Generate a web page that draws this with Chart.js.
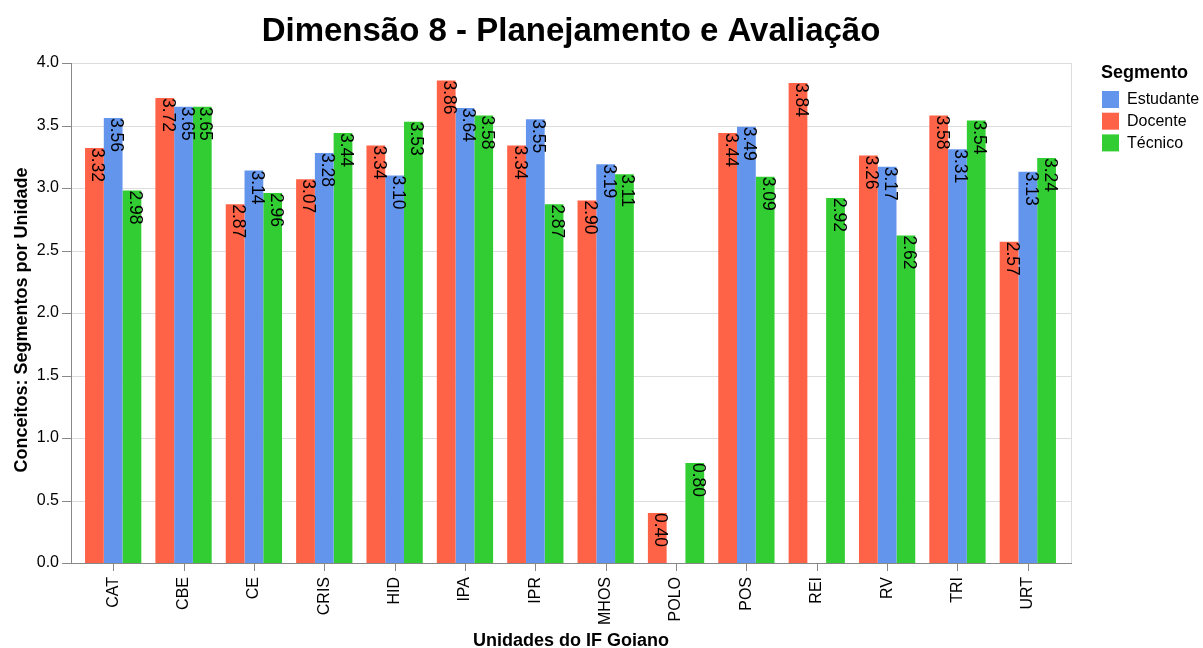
<!DOCTYPE html>
<html>
<head>
<meta charset="utf-8">
<title>Dimensão 8 - Planejamento e Avaliação</title>
<script src="https://cdn.jsdelivr.net/npm/chart.js@4.4.1/dist/chart.umd.min.js"></script>
<style>
  html, body { margin: 0; padding: 0; background: #fff; }
</style>
</head>
<body>
<canvas id="myBarChart" width="1203" height="648"></canvas>
<script>
const units = ["CAT", "CBE", "CE", "CRIS", "HID", "IPA", "IPR", "MHOS", "POLO", "POS", "REI", "RV", "TRI", "URT"];
const docente = [3.32, 3.72, 2.87, 3.07, 3.34, 3.86, 3.34, 2.90, 0.40, 3.44, 3.84, 3.26, 3.58, 2.57];
const estudante = [3.56, 3.65, 3.14, 3.28, 3.10, 3.64, 3.55, 3.19, null, 3.49, null, 3.17, 3.31, 3.13];
const tecnico = [2.98, 3.65, 2.96, 3.44, 3.53, 3.58, 2.87, 3.11, 0.80, 3.09, 2.92, 2.62, 3.54, 3.24];
const yTicks = [0, 0.5, 1, 1.5, 2, 2.5, 3, 3.5, 4];

const FONT = "'Liberation Sans', Arial, Helvetica, sans-serif";

document.addEventListener("DOMContentLoaded", function () {
  const datasets = [
    { label: "Docente", data: docente, backgroundColor: "#ff6347" },
    { label: "Estudante", data: estudante, backgroundColor: "#6495ed" },
    { label: "Técnico", data: tecnico, backgroundColor: "#32cd32" },
  ];
  // legend lists Estudante first
  const legendOrder = [1, 0, 2];

  // frame, grid, ticks and titles (vega-like look)
  const framePlugin = {
    id: "frame",
    beforeDatasetsDraw(chart) {
      const ctx = chart.ctx;
      const a = chart.chartArea;
      const y = chart.scales.y;
      const x = chart.scales.x;
      const left = a.left - 7;
      const right = a.right + 8;

      ctx.save();
      ctx.lineWidth = 1;
      ctx.strokeStyle = "#dddddd";
      yTicks.forEach((v) => {
        const py = Math.round(y.getPixelForValue(v)) + 0.5;
        ctx.beginPath();
        ctx.moveTo(left, py);
        ctx.lineTo(right, py);
        ctx.stroke();
      });
      ctx.beginPath();
      ctx.moveTo(right + 0.5, a.top);
      ctx.lineTo(right + 0.5, a.bottom);
      ctx.stroke();

      ctx.strokeStyle = "#888888";
      ctx.beginPath();
      ctx.moveTo(left + 0.5, a.top);
      ctx.lineTo(left + 0.5, a.bottom + 1);
      ctx.moveTo(left, a.bottom + 0.5);
      ctx.lineTo(right + 1, a.bottom + 0.5);
      yTicks.forEach((v) => {
        const py = Math.round(y.getPixelForValue(v)) + 0.5;
        ctx.moveTo(left - 9, py);
        ctx.lineTo(left, py);
      });
      units.forEach((u, i) => {
        const px = Math.round(x.getPixelForTick(i)) + 0.5;
        ctx.moveTo(px, a.bottom);
        ctx.lineTo(px, a.bottom + 8);
      });
      ctx.stroke();
      ctx.restore();
    },
    afterDraw(chart) {
      const ctx = chart.ctx;
      const a = chart.chartArea;
      const mid = (a.left - 7 + a.right + 8) / 2;

      ctx.save();
      ctx.fillStyle = "#000";
      ctx.textAlign = "center";
      ctx.textBaseline = "alphabetic";
      ctx.font = "bold 33px " + FONT;
      ctx.fillText("Dimensão 8 - Planejamento e Avaliação", mid, 41);

      ctx.font = "bold 18px " + FONT;
      ctx.fillText("Unidades do IF Goiano", mid, 646);

      ctx.save();
      ctx.translate(27, 320);
      ctx.rotate(-Math.PI / 2);
      ctx.fillText("Conceitos: Segmentos por Unidade", 0, 0);
      ctx.restore();

      // legend
      ctx.textAlign = "left";
      ctx.font = "bold 18px " + FONT;
      ctx.fillText("Segmento", 1101, 78);
      ctx.font = "16px " + FONT;
      ctx.textBaseline = "middle";
      legendOrder.forEach((d, k) => {
        const top = 91 + k * 21.7;
        ctx.fillStyle = datasets[d].backgroundColor;
        ctx.fillRect(1102, top, 17, 17);
        ctx.fillStyle = "#000";
        ctx.fillText(datasets[d].label, 1127, top + 9);
      });
      ctx.restore();
    },
  };

  // value labels, rotated, hanging from the top of each bar
  const valueLabels = {
    id: "valueLabels",
    afterDatasetsDraw(chart) {
      const ctx = chart.ctx;
      ctx.save();
      ctx.fillStyle = "#000";
      ctx.font = "17.5px " + FONT;
      ctx.textAlign = "left";
      ctx.textBaseline = "alphabetic";
      chart.data.datasets.forEach((ds, i) => {
        chart.getDatasetMeta(i).data.forEach((bar, j) => {
          const v = ds.data[j];
          if (v == null) return;
          ctx.save();
          ctx.translate(bar.x - 2, bar.y);
          ctx.rotate(Math.PI / 2);
          ctx.fillText(v.toFixed(2), 0, 0);
          ctx.restore();
        });
      });
      ctx.restore();
    },
  };

  const ctx = document.getElementById("myBarChart").getContext("2d");
  new Chart(ctx, {
    type: "bar",
    data: { labels: units, datasets: datasets },
    options: {
      responsive: false,
      animation: false,
      devicePixelRatio: 1,
      categoryPercentage: 0.8,
      barPercentage: 1.0,
      layout: { padding: { left: 0, right: 140, top: 63, bottom: 0 } },
      plugins: {
        legend: { display: false },
        title: { display: false },
        tooltip: { enabled: false },
      },
      scales: {
        x: {
          offset: true,
          grid: { display: false, drawTicks: false },
          border: { display: false },
          ticks: {
            color: "#000",
            font: { family: FONT, size: 16 },
            autoSkip: false,
            minRotation: 90,
            maxRotation: 90,
            padding: 14,
          },
          afterFit(scale) { scale.height = 85; },
        },
        y: {
          min: 0,
          max: 4,
          grid: { display: false, drawTicks: false },
          border: { display: false },
          ticks: {
            color: "#000",
            font: { family: FONT, size: 16 },
            stepSize: 0.5,
            padding: 19,
            callback: (v) => Number(v).toFixed(1),
          },
          afterFit(scale) { scale.width = 78; },
        },
      },
    },
    plugins: [framePlugin, valueLabels],
  });
});
</script>
</body>
</html>
